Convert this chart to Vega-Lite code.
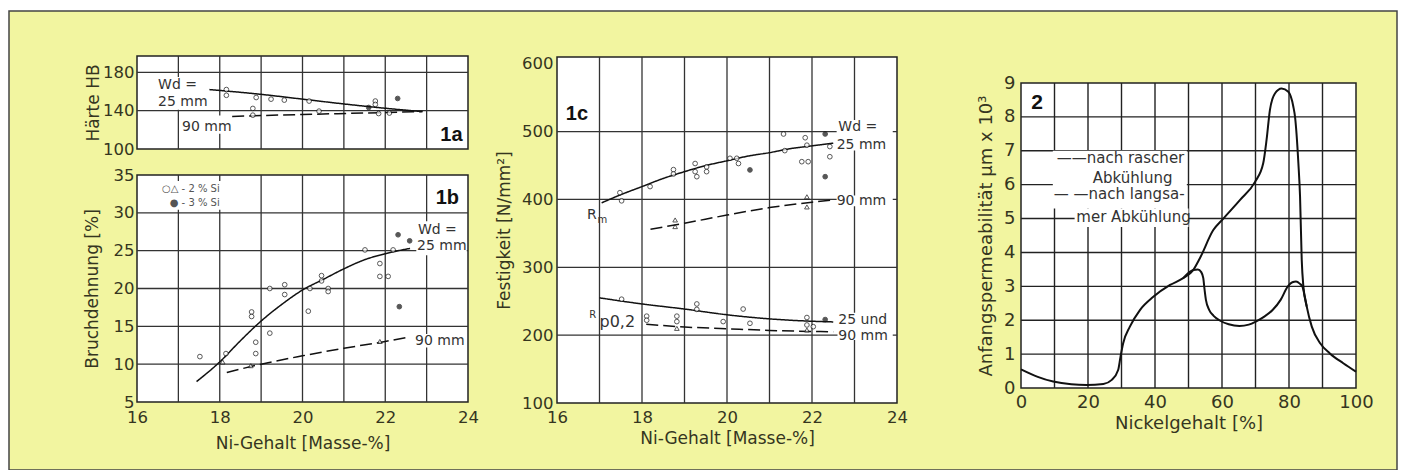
{
"$schema": "https://vega.github.io/schema/vega-lite/v6.json",
"width": 1388, "height": 459,
"autosize": {"type": "none"},
"padding": {"left": 9, "top": 11, "right": 4, "bottom": 0},
"background": "white",
"config": {
  "view": {"fill": "#f2f5a0", "stroke": "#444444", "strokeWidth": 1.5},
  "axis": {"domain": false, "ticks": false, "grid": false, "labelFont": "DejaVu Sans", "labelFontSize": 16.5, "labelColor": "#35351f", "titleFont": "DejaVu Sans", "titleFontSize": 17, "titleFontWeight": "normal", "titleColor": "#35351f", "labelFlush": false, "labelOverlap": false, "labelBound": false},
  "text": {"font": "DejaVu Sans"}
},
"datasets": {
  "haerte": [
    {"Ni": 18.16, "HB": 162, "Si": "2 % Si", "Wd": "25 mm"},
    {"Ni": 18.16, "HB": 156, "Si": "2 % Si", "Wd": "25 mm"},
    {"Ni": 18.88, "HB": 153.7, "Si": "2 % Si", "Wd": "25 mm"},
    {"Ni": 19.24, "HB": 152, "Si": "2 % Si", "Wd": "25 mm"},
    {"Ni": 19.56, "HB": 151, "Si": "2 % Si", "Wd": "25 mm"},
    {"Ni": 20.16, "HB": 150, "Si": "2 % Si", "Wd": "25 mm"},
    {"Ni": 21.76, "HB": 150, "Si": "2 % Si", "Wd": "25 mm"},
    {"Ni": 21.76, "HB": 146.5, "Si": "2 % Si", "Wd": "25 mm"},
    {"Ni": 18.8, "HB": 142.3, "Si": "2 % Si", "Wd": "90 mm"},
    {"Ni": 18.8, "HB": 135.3, "Si": "2 % Si", "Wd": "90 mm"},
    {"Ni": 20.4, "HB": 139.5, "Si": "2 % Si", "Wd": "90 mm"},
    {"Ni": 21.84, "HB": 137, "Si": "2 % Si", "Wd": "90 mm"},
    {"Ni": 22.1, "HB": 137.5, "Si": "2 % Si", "Wd": "90 mm"},
    {"Ni": 21.6, "HB": 143.3, "Si": "3 % Si", "Wd": "25 mm"},
    {"Ni": 22.3, "HB": 152.7, "Si": "3 % Si", "Wd": "25 mm"}
  ],
  "haerte_kurven": [
    {"Ni": 17.75, "HB": 162, "Wd": "25 mm"},
    {"Ni": 19, "HB": 157, "Wd": "25 mm"},
    {"Ni": 20, "HB": 152, "Wd": "25 mm"},
    {"Ni": 21, "HB": 147, "Wd": "25 mm"},
    {"Ni": 22, "HB": 142.5, "Wd": "25 mm"},
    {"Ni": 22.9, "HB": 139, "Wd": "25 mm"},
    {"Ni": 18.3, "HB": 134, "Wd": "90 mm"},
    {"Ni": 20, "HB": 136, "Wd": "90 mm"},
    {"Ni": 21.5, "HB": 137.5, "Wd": "90 mm"},
    {"Ni": 22.9, "HB": 139, "Wd": "90 mm"}
  ],
  "dehnung": [
    {"Ni": 17.52, "A": 11.0, "Si": "2 % Si", "Wd": "25 mm"},
    {"Ni": 18.15, "A": 11.4, "Si": "2 % Si", "Wd": "25 mm"},
    {"Ni": 18.77, "A": 16.9, "Si": "2 % Si", "Wd": "25 mm"},
    {"Ni": 18.77, "A": 16.3, "Si": "2 % Si", "Wd": "25 mm"},
    {"Ni": 18.87, "A": 12.9, "Si": "2 % Si", "Wd": "25 mm"},
    {"Ni": 18.87, "A": 11.4, "Si": "2 % Si", "Wd": "25 mm"},
    {"Ni": 19.21, "A": 20.0, "Si": "2 % Si", "Wd": "25 mm"},
    {"Ni": 19.21, "A": 14.1, "Si": "2 % Si", "Wd": "25 mm"},
    {"Ni": 19.57, "A": 20.5, "Si": "2 % Si", "Wd": "25 mm"},
    {"Ni": 19.57, "A": 19.2, "Si": "2 % Si", "Wd": "25 mm"},
    {"Ni": 20.18, "A": 20.0, "Si": "2 % Si", "Wd": "25 mm"},
    {"Ni": 20.14, "A": 17.0, "Si": "2 % Si", "Wd": "25 mm"},
    {"Ni": 20.46, "A": 21.7, "Si": "2 % Si", "Wd": "25 mm"},
    {"Ni": 20.46, "A": 21.0, "Si": "2 % Si", "Wd": "25 mm"},
    {"Ni": 20.62, "A": 20.0, "Si": "2 % Si", "Wd": "25 mm"},
    {"Ni": 20.62, "A": 19.6, "Si": "2 % Si", "Wd": "25 mm"},
    {"Ni": 21.51, "A": 25.1, "Si": "2 % Si", "Wd": "25 mm"},
    {"Ni": 21.87, "A": 23.3, "Si": "2 % Si", "Wd": "25 mm"},
    {"Ni": 21.87, "A": 21.6, "Si": "2 % Si", "Wd": "25 mm"},
    {"Ni": 22.07, "A": 21.6, "Si": "2 % Si", "Wd": "25 mm"},
    {"Ni": 22.19, "A": 25.1, "Si": "2 % Si", "Wd": "25 mm"},
    {"Ni": 18.07, "A": 10.3, "Si": "2 % Si", "Wd": "90 mm"},
    {"Ni": 18.75, "A": 9.8, "Si": "2 % Si", "Wd": "90 mm"},
    {"Ni": 21.87, "A": 13.0, "Si": "2 % Si", "Wd": "90 mm"},
    {"Ni": 22.31, "A": 27.1, "Si": "3 % Si", "Wd": "25 mm"},
    {"Ni": 22.34, "A": 17.6, "Si": "3 % Si", "Wd": "25 mm"},
    {"Ni": 22.59, "A": 26.3, "Si": "3 % Si", "Wd": "25 mm"}
  ],
  "dehnung_kurven": [
    {"Ni": 17.44, "A": 7.7, "Wd": "25 mm"},
    {"Ni": 18, "A": 10.3, "Wd": "25 mm"},
    {"Ni": 18.5, "A": 13.1, "Wd": "25 mm"},
    {"Ni": 19, "A": 15.7, "Wd": "25 mm"},
    {"Ni": 19.5, "A": 17.9, "Wd": "25 mm"},
    {"Ni": 20, "A": 19.8, "Wd": "25 mm"},
    {"Ni": 20.5, "A": 21.2, "Wd": "25 mm"},
    {"Ni": 21, "A": 22.6, "Wd": "25 mm"},
    {"Ni": 21.5, "A": 23.8, "Wd": "25 mm"},
    {"Ni": 22, "A": 24.6, "Wd": "25 mm"},
    {"Ni": 22.6, "A": 25.3, "Wd": "25 mm"},
    {"Ni": 18.17, "A": 8.9, "Wd": "90 mm"},
    {"Ni": 19, "A": 10.0, "Wd": "90 mm"},
    {"Ni": 20, "A": 11.1, "Wd": "90 mm"},
    {"Ni": 21, "A": 12.1, "Wd": "90 mm"},
    {"Ni": 22, "A": 13.0, "Wd": "90 mm"},
    {"Ni": 22.5, "A": 13.5, "Wd": "90 mm"}
  ],
  "festigkeit": [
    {"Ni": 17.48, "R": 410, "K": "Rm", "Si": "2 % Si", "Wd": "25 mm"},
    {"Ni": 17.52, "R": 398, "K": "Rm", "Si": "2 % Si", "Wd": "25 mm"},
    {"Ni": 18.19, "R": 419, "K": "Rm", "Si": "2 % Si", "Wd": "25 mm"},
    {"Ni": 18.74, "R": 444, "K": "Rm", "Si": "2 % Si", "Wd": "25 mm"},
    {"Ni": 18.74, "R": 437.6, "K": "Rm", "Si": "2 % Si", "Wd": "25 mm"},
    {"Ni": 19.25, "R": 453, "K": "Rm", "Si": "2 % Si", "Wd": "25 mm"},
    {"Ni": 19.25, "R": 441, "K": "Rm", "Si": "2 % Si", "Wd": "25 mm"},
    {"Ni": 19.29, "R": 433.6, "K": "Rm", "Si": "2 % Si", "Wd": "25 mm"},
    {"Ni": 19.52, "R": 448, "K": "Rm", "Si": "2 % Si", "Wd": "25 mm"},
    {"Ni": 19.52, "R": 441, "K": "Rm", "Si": "2 % Si", "Wd": "25 mm"},
    {"Ni": 20.07, "R": 460.7, "K": "Rm", "Si": "2 % Si", "Wd": "25 mm"},
    {"Ni": 20.23, "R": 460.7, "K": "Rm", "Si": "2 % Si", "Wd": "25 mm"},
    {"Ni": 20.27, "R": 453, "K": "Rm", "Si": "2 % Si", "Wd": "25 mm"},
    {"Ni": 21.33, "R": 496.5, "K": "Rm", "Si": "2 % Si", "Wd": "25 mm"},
    {"Ni": 21.36, "R": 472, "K": "Rm", "Si": "2 % Si", "Wd": "25 mm"},
    {"Ni": 21.84, "R": 491, "K": "Rm", "Si": "2 % Si", "Wd": "25 mm"},
    {"Ni": 21.88, "R": 480, "K": "Rm", "Si": "2 % Si", "Wd": "25 mm"},
    {"Ni": 21.76, "R": 455.7, "K": "Rm", "Si": "2 % Si", "Wd": "25 mm"},
    {"Ni": 21.91, "R": 455.7, "K": "Rm", "Si": "2 % Si", "Wd": "25 mm"},
    {"Ni": 22.42, "R": 478, "K": "Rm", "Si": "2 % Si", "Wd": "25 mm"},
    {"Ni": 22.42, "R": 463, "K": "Rm", "Si": "2 % Si", "Wd": "25 mm"},
    {"Ni": 18.78, "R": 369.8, "K": "Rm", "Si": "2 % Si", "Wd": "90 mm"},
    {"Ni": 18.78, "R": 360, "K": "Rm", "Si": "2 % Si", "Wd": "90 mm"},
    {"Ni": 21.88, "R": 404, "K": "Rm", "Si": "2 % Si", "Wd": "90 mm"},
    {"Ni": 21.88, "R": 389, "K": "Rm", "Si": "2 % Si", "Wd": "90 mm"},
    {"Ni": 20.54, "R": 443.5, "K": "Rm", "Si": "3 % Si", "Wd": "25 mm"},
    {"Ni": 22.31, "R": 496.5, "K": "Rm", "Si": "3 % Si", "Wd": "25 mm"},
    {"Ni": 22.31, "R": 433.6, "K": "Rm", "Si": "3 % Si", "Wd": "25 mm"},
    {"Ni": 17.52, "R": 253, "K": "Rp0,2", "Si": "2 % Si", "Wd": "25 mm"},
    {"Ni": 18.11, "R": 228, "K": "Rp0,2", "Si": "2 % Si", "Wd": "25 mm"},
    {"Ni": 18.11, "R": 222, "K": "Rp0,2", "Si": "2 % Si", "Wd": "25 mm"},
    {"Ni": 18.82, "R": 228, "K": "Rp0,2", "Si": "2 % Si", "Wd": "25 mm"},
    {"Ni": 18.82, "R": 220, "K": "Rp0,2", "Si": "2 % Si", "Wd": "25 mm"},
    {"Ni": 19.29, "R": 246, "K": "Rp0,2", "Si": "2 % Si", "Wd": "25 mm"},
    {"Ni": 19.29, "R": 238, "K": "Rp0,2", "Si": "2 % Si", "Wd": "25 mm"},
    {"Ni": 19.91, "R": 220, "K": "Rp0,2", "Si": "2 % Si", "Wd": "25 mm"},
    {"Ni": 20.38, "R": 238.5, "K": "Rp0,2", "Si": "2 % Si", "Wd": "25 mm"},
    {"Ni": 20.54, "R": 217.5, "K": "Rp0,2", "Si": "2 % Si", "Wd": "25 mm"},
    {"Ni": 21.88, "R": 226, "K": "Rp0,2", "Si": "2 % Si", "Wd": "25 mm"},
    {"Ni": 21.88, "R": 215, "K": "Rp0,2", "Si": "2 % Si", "Wd": "25 mm"},
    {"Ni": 22.03, "R": 212.5, "K": "Rp0,2", "Si": "2 % Si", "Wd": "25 mm"},
    {"Ni": 18.82, "R": 210, "K": "Rp0,2", "Si": "2 % Si", "Wd": "90 mm"},
    {"Ni": 21.88, "R": 207.6, "K": "Rp0,2", "Si": "2 % Si", "Wd": "90 mm"},
    {"Ni": 22.31, "R": 223, "K": "Rp0,2", "Si": "3 % Si", "Wd": "25 mm"}
  ],
  "festigkeit_kurven": [
    {"Ni": 17.05, "R": 395, "K": "Rm", "Wd": "25 mm"},
    {"Ni": 17.5, "R": 407, "K": "Rm", "Wd": "25 mm"},
    {"Ni": 18, "R": 419, "K": "Rm", "Wd": "25 mm"},
    {"Ni": 18.5, "R": 431, "K": "Rm", "Wd": "25 mm"},
    {"Ni": 19, "R": 441, "K": "Rm", "Wd": "25 mm"},
    {"Ni": 19.5, "R": 450, "K": "Rm", "Wd": "25 mm"},
    {"Ni": 20, "R": 457, "K": "Rm", "Wd": "25 mm"},
    {"Ni": 20.5, "R": 464, "K": "Rm", "Wd": "25 mm"},
    {"Ni": 21, "R": 469, "K": "Rm", "Wd": "25 mm"},
    {"Ni": 21.5, "R": 475, "K": "Rm", "Wd": "25 mm"},
    {"Ni": 22, "R": 479, "K": "Rm", "Wd": "25 mm"},
    {"Ni": 22.5, "R": 483, "K": "Rm", "Wd": "25 mm"},
    {"Ni": 18.2, "R": 356, "K": "Rm", "Wd": "90 mm"},
    {"Ni": 19, "R": 365, "K": "Rm", "Wd": "90 mm"},
    {"Ni": 20, "R": 377, "K": "Rm", "Wd": "90 mm"},
    {"Ni": 21, "R": 388, "K": "Rm", "Wd": "90 mm"},
    {"Ni": 22, "R": 396, "K": "Rm", "Wd": "90 mm"},
    {"Ni": 22.45, "R": 399, "K": "Rm", "Wd": "90 mm"},
    {"Ni": 17, "R": 255, "K": "Rp0,2", "Wd": "25 mm"},
    {"Ni": 18, "R": 246, "K": "Rp0,2", "Wd": "25 mm"},
    {"Ni": 19, "R": 238.5, "K": "Rp0,2", "Wd": "25 mm"},
    {"Ni": 20, "R": 230, "K": "Rp0,2", "Wd": "25 mm"},
    {"Ni": 21, "R": 224, "K": "Rp0,2", "Wd": "25 mm"},
    {"Ni": 22, "R": 220.5, "K": "Rp0,2", "Wd": "25 mm"},
    {"Ni": 22.5, "R": 219.5, "K": "Rp0,2", "Wd": "25 mm"},
    {"Ni": 18.1, "R": 216, "K": "Rp0,2", "Wd": "90 mm"},
    {"Ni": 19, "R": 212, "K": "Rp0,2", "Wd": "90 mm"},
    {"Ni": 20, "R": 209.5, "K": "Rp0,2", "Wd": "90 mm"},
    {"Ni": 21, "R": 207, "K": "Rp0,2", "Wd": "90 mm"},
    {"Ni": 22, "R": 205.5, "K": "Rp0,2", "Wd": "90 mm"},
    {"Ni": 22.5, "R": 205, "K": "Rp0,2", "Wd": "90 mm"}
  ],
  "permeabilitaet": [
    {"Ni": 0, "mu": 0.55, "Abk": "rasch"},
    {"Ni": 5, "mu": 0.33, "Abk": "rasch"},
    {"Ni": 9.6, "mu": 0.19, "Abk": "rasch"},
    {"Ni": 15, "mu": 0.11, "Abk": "rasch"},
    {"Ni": 19.6, "mu": 0.09, "Abk": "rasch"},
    {"Ni": 24.6, "mu": 0.12, "Abk": "rasch"},
    {"Ni": 27.1, "mu": 0.24, "Abk": "rasch"},
    {"Ni": 29, "mu": 0.53, "Abk": "rasch"},
    {"Ni": 29.7, "mu": 0.92, "Abk": "rasch"},
    {"Ni": 30.5, "mu": 1.32, "Abk": "rasch"},
    {"Ni": 32.5, "mu": 1.81, "Abk": "rasch"},
    {"Ni": 35.5, "mu": 2.30, "Abk": "rasch"},
    {"Ni": 39.5, "mu": 2.69, "Abk": "rasch"},
    {"Ni": 44.5, "mu": 3.04, "Abk": "rasch"},
    {"Ni": 48.4, "mu": 3.24, "Abk": "rasch"},
    {"Ni": 51.4, "mu": 3.48, "Abk": "rasch"},
    {"Ni": 53.4, "mu": 3.83, "Abk": "rasch"},
    {"Ni": 57.4, "mu": 4.66, "Abk": "rasch"},
    {"Ni": 60.4, "mu": 5.0, "Abk": "rasch"},
    {"Ni": 65.4, "mu": 5.55, "Abk": "rasch"},
    {"Ni": 69.9, "mu": 6.09, "Abk": "rasch"},
    {"Ni": 72.3, "mu": 6.63, "Abk": "rasch"},
    {"Ni": 73.3, "mu": 7.32, "Abk": "rasch"},
    {"Ni": 74.3, "mu": 8.2, "Abk": "rasch"},
    {"Ni": 75.8, "mu": 8.69, "Abk": "rasch"},
    {"Ni": 77.8, "mu": 8.84, "Abk": "rasch"},
    {"Ni": 79.8, "mu": 8.74, "Abk": "rasch"},
    {"Ni": 81.3, "mu": 8.3, "Abk": "rasch"},
    {"Ni": 81.8, "mu": 8.0, "Abk": "rasch"},
    {"Ni": 82.8, "mu": 6.63, "Abk": "rasch"},
    {"Ni": 83.3, "mu": 5.64, "Abk": "rasch"},
    {"Ni": 83.8, "mu": 3.78, "Abk": "rasch"},
    {"Ni": 84.3, "mu": 2.99, "Abk": "rasch"},
    {"Ni": 85.3, "mu": 2.40, "Abk": "rasch"},
    {"Ni": 86.8, "mu": 1.81, "Abk": "rasch"},
    {"Ni": 89.3, "mu": 1.32, "Abk": "rasch"},
    {"Ni": 92.2, "mu": 1.02, "Abk": "rasch"},
    {"Ni": 96.2, "mu": 0.73, "Abk": "rasch"},
    {"Ni": 100, "mu": 0.48, "Abk": "rasch"},
    {"Ni": 48.4, "mu": 3.24, "Abk": "langsam"},
    {"Ni": 51.4, "mu": 3.48, "Abk": "langsam"},
    {"Ni": 52.8, "mu": 3.50, "Abk": "langsam"},
    {"Ni": 53.8, "mu": 3.42, "Abk": "langsam"},
    {"Ni": 54.4, "mu": 3.25, "Abk": "langsam"},
    {"Ni": 54.8, "mu": 2.9, "Abk": "langsam"},
    {"Ni": 55.2, "mu": 2.6, "Abk": "langsam"},
    {"Ni": 56.2, "mu": 2.30, "Abk": "langsam"},
    {"Ni": 57.5, "mu": 2.13, "Abk": "langsam"},
    {"Ni": 59.2, "mu": 2.0, "Abk": "langsam"},
    {"Ni": 62, "mu": 1.88, "Abk": "langsam"},
    {"Ni": 65.2, "mu": 1.83, "Abk": "langsam"},
    {"Ni": 68, "mu": 1.87, "Abk": "langsam"},
    {"Ni": 70.1, "mu": 1.96, "Abk": "langsam"},
    {"Ni": 72.5, "mu": 2.1, "Abk": "langsam"},
    {"Ni": 75.1, "mu": 2.30, "Abk": "langsam"},
    {"Ni": 77.5, "mu": 2.6, "Abk": "langsam"},
    {"Ni": 79.6, "mu": 2.99, "Abk": "langsam"},
    {"Ni": 81, "mu": 3.12, "Abk": "langsam"},
    {"Ni": 82.1, "mu": 3.14, "Abk": "langsam"},
    {"Ni": 83.2, "mu": 3.08, "Abk": "langsam"},
    {"Ni": 84.0, "mu": 2.99, "Abk": "langsam"},
    {"Ni": 84.6, "mu": 2.75, "Abk": "langsam"},
    {"Ni": 85.3, "mu": 2.40, "Abk": "langsam"}
  ]
},
"layer": [
  {"data": {"values": [{"x1": 16, "x2": 24, "y1": 100, "y2": 197}]}, "mark": {"type": "rect", "fill": "white", "stroke": "#222222", "strokeWidth": 1.5},
   "encoding": {
     "x": {"field": "x1", "type": "quantitative", "scale": {"domain": [16, 24], "range": [128, 459], "nice": false, "zero": false}, "axis": null},
     "x2": {"field": "x2"},
     "y": {"field": "y1", "type": "quantitative", "scale": {"domain": [100, 197], "range": [138, 45], "nice": false, "zero": false},
           "axis": {"orient": "left", "offset": -128, "values": [100, 140, 180], "title": "Härte HB", "labelPadding": 3, "titlePadding": 0}},
     "y2": {"field": "y2"}
   }},
  {"data": {"values": [{"x1": 16, "x2": 24, "y1": 5, "y2": 35}]}, "mark": {"type": "rect", "fill": "white", "stroke": "#222222", "strokeWidth": 1.5},
   "encoding": {
     "x": {"field": "x1", "type": "quantitative", "scale": {"domain": [16, 24], "range": [128, 459], "nice": false, "zero": false},
           "axis": {"orient": "bottom", "offset": -68, "values": [16, 18, 20, 22, 24], "title": "Ni-Gehalt [Masse-%]", "labelPadding": 7, "titlePadding": 10}},
     "x2": {"field": "x2"},
     "y": {"field": "y1", "type": "quantitative", "scale": {"domain": [5, 35], "range": [391, 164], "nice": false, "zero": false},
           "axis": {"orient": "left", "offset": -128, "values": [5, 10, 15, 20, 25, 30, 35], "title": "Bruchdehnung [%]", "labelPadding": 3, "titlePadding": 12}},
     "y2": {"field": "y2"}
   }},
  {"data": {"values": [{"x1": 16, "x2": 24, "y1": 100, "y2": 610}]}, "mark": {"type": "rect", "fill": "white", "stroke": "#222222", "strokeWidth": 1.5},
   "encoding": {
     "x": {"field": "x1", "type": "quantitative", "scale": {"domain": [16, 24], "range": [548, 888], "nice": false, "zero": false},
           "axis": {"orient": "bottom", "offset": -67, "values": [16, 18, 20, 22, 24], "title": "Ni-Gehalt [Masse-%]", "labelPadding": 6, "titlePadding": 5}},
     "x2": {"field": "x2"},
     "y": {"field": "y1", "type": "quantitative", "scale": {"domain": [100, 610], "range": [392, 46], "nice": false, "zero": false},
           "axis": {"orient": "left", "offset": -548, "values": [100, 200, 300, 400, 500, 600], "title": "Festigkeit [N/mm²]", "labelPadding": 4, "titlePadding": 8}},
     "y2": {"field": "y2"}
   }},
  {"data": {"values": [{"x1": 0, "x2": 100, "y1": 0, "y2": 9}]}, "mark": {"type": "rect", "fill": "white", "stroke": "#222222", "strokeWidth": 1.5},
   "encoding": {
     "x": {"field": "x1", "type": "quantitative", "scale": {"domain": [0, 100], "range": [1012, 1347], "nice": false, "zero": false},
           "axis": {"orient": "bottom", "offset": -82, "values": [0, 20, 40, 60, 80, 100], "title": "Nickelgehalt [%]", "labelPadding": 5, "titlePadding": 3, "labelFontSize": 18, "titleFontSize": 18}},
     "x2": {"field": "x2"},
     "y": {"field": "y1", "type": "quantitative", "scale": {"domain": [0, 9], "range": [377, 72], "nice": false, "zero": false},
           "axis": {"orient": "left", "offset": -1012, "values": [0, 1, 2, 3, 4, 5, 6, 7, 8, 9], "title": "Anfangspermeabilität µm x 10³", "labelPadding": 6, "titlePadding": 8, "labelFontSize": 18, "titleFontSize": 18}},
     "y2": {"field": "y2"}
   }},

  {"data": {"values": [{"v": 17}, {"v": 18}, {"v": 19}, {"v": 20}, {"v": 21}, {"v": 22}, {"v": 23}]},
   "mark": {"type": "rule", "stroke": "#333333", "strokeWidth": 1.3},
   "encoding": {"x": {"field": "v", "type": "quantitative", "scale": {"domain": [16, 24], "range": [128, 459], "nice": false, "zero": false}, "axis": null},
                "y": {"datum": 100, "type": "quantitative", "scale": {"domain": [100, 197], "range": [138, 45], "nice": false, "zero": false}, "axis": null}, "y2": {"datum": 197}}},
  {"data": {"values": [{"v": 140}, {"v": 180}]},
   "mark": {"type": "rule", "stroke": "#333333", "strokeWidth": 1.3},
   "encoding": {"y": {"field": "v", "type": "quantitative", "scale": {"domain": [100, 197], "range": [138, 45], "nice": false, "zero": false}, "axis": null},
                "x": {"datum": 16, "type": "quantitative", "scale": {"domain": [16, 24], "range": [128, 459], "nice": false, "zero": false}, "axis": null}, "x2": {"datum": 24}}},
  {"data": {"values": [{"x1": 16.45, "x2": 17.72, "y1": 141, "y2": 175}, {"x1": 17.05, "x2": 18.3, "y1": 116, "y2": 135}]}, "mark": {"type": "rect", "fill": "white"},
   "encoding": {"x": {"field": "x1", "type": "quantitative", "scale": {"domain": [16, 24], "range": [128, 459], "nice": false, "zero": false}, "axis": null}, "x2": {"field": "x2"},
                "y": {"field": "y1", "type": "quantitative", "scale": {"domain": [100, 197], "range": [138, 45], "nice": false, "zero": false}, "axis": null}, "y2": {"field": "y2"}}},
  {"data": {"name": "haerte_kurven"}, "mark": {"type": "line", "stroke": "#111111", "strokeWidth": 1.5, "interpolate": "monotone"},
   "encoding": {"x": {"field": "Ni", "type": "quantitative", "scale": {"domain": [16, 24], "range": [128, 459], "nice": false, "zero": false}, "axis": null},
                "y": {"field": "HB", "type": "quantitative", "scale": {"domain": [100, 197], "range": [138, 45], "nice": false, "zero": false}, "axis": null},
                "strokeDash": {"field": "Wd", "type": "nominal", "scale": {"domain": ["25 mm", "90 mm"], "range": [[1, 0], [12, 5]]}, "legend": null}}},
  {"data": {"name": "haerte"}, "mark": {"type": "point", "shape": "circle", "filled": true, "size": 22, "stroke": "#111111", "strokeWidth": 1},
   "encoding": {"x": {"field": "Ni", "type": "quantitative", "scale": {"domain": [16, 24], "range": [128, 459], "nice": false, "zero": false}, "axis": null},
                "y": {"field": "HB", "type": "quantitative", "scale": {"domain": [100, 197], "range": [138, 45], "nice": false, "zero": false}, "axis": null},
                "fill": {"field": "Si", "type": "nominal", "scale": {"domain": ["2 % Si", "3 % Si"], "range": ["white", "#111111"]}, "legend": null}}},
  {"data": {"values": [{"t": "Wd =", "x": 16.51, "y": 166.5}, {"t": "25 mm", "x": 16.51, "y": 149}, {"t": "90 mm", "x": 17.09, "y": 122.5}]},
   "mark": {"type": "text", "align": "left", "baseline": "middle", "fontSize": 14, "fill": "#333333"},
   "encoding": {"x": {"field": "x", "type": "quantitative", "scale": {"domain": [16, 24], "range": [128, 459], "nice": false, "zero": false}, "axis": null},
                "y": {"field": "y", "type": "quantitative", "scale": {"domain": [100, 197], "range": [138, 45], "nice": false, "zero": false}, "axis": null}, "text": {"field": "t"}}},
  {"data": {"values": [{"t": "1a", "x": 23.6, "y": 114.5}]},
   "mark": {"type": "text", "align": "center", "baseline": "middle", "font": "Liberation Sans", "fontWeight": "bold", "fontSize": 20, "fill": "#111111"},
   "encoding": {"x": {"field": "x", "type": "quantitative", "scale": {"domain": [16, 24], "range": [128, 459], "nice": false, "zero": false}, "axis": null},
                "y": {"field": "y", "type": "quantitative", "scale": {"domain": [100, 197], "range": [138, 45], "nice": false, "zero": false}, "axis": null}, "text": {"field": "t"}}},

  {"data": {"values": [{"v": 17}, {"v": 18}, {"v": 19}, {"v": 20}, {"v": 21}, {"v": 22}, {"v": 23}]},
   "mark": {"type": "rule", "stroke": "#333333", "strokeWidth": 1.3},
   "encoding": {"x": {"field": "v", "type": "quantitative", "scale": {"domain": [16, 24], "range": [128, 459], "nice": false, "zero": false}, "axis": null},
                "y": {"datum": 5, "type": "quantitative", "scale": {"domain": [5, 35], "range": [391, 164], "nice": false, "zero": false}, "axis": null}, "y2": {"datum": 35}}},
  {"data": {"values": [{"v": 10}, {"v": 15}, {"v": 20}, {"v": 25}, {"v": 30}]},
   "mark": {"type": "rule", "stroke": "#333333", "strokeWidth": 1.3},
   "encoding": {"y": {"field": "v", "type": "quantitative", "scale": {"domain": [5, 35], "range": [391, 164], "nice": false, "zero": false}, "axis": null},
                "x": {"datum": 16, "type": "quantitative", "scale": {"domain": [16, 24], "range": [128, 459], "nice": false, "zero": false}, "axis": null}, "x2": {"datum": 24}}},
  {"data": {"values": [{"x1": 22.75, "x2": 23.97, "y1": 24.4, "y2": 28.9}, {"x1": 22.65, "x2": 23.97, "y1": 12.2, "y2": 14.0}, {"x1": 16.2, "x2": 18.15, "y1": 30.4, "y2": 34.2}]}, "mark": {"type": "rect", "fill": "white"},
   "encoding": {"x": {"field": "x1", "type": "quantitative", "scale": {"domain": [16, 24], "range": [128, 459], "nice": false, "zero": false}, "axis": null}, "x2": {"field": "x2"},
                "y": {"field": "y1", "type": "quantitative", "scale": {"domain": [5, 35], "range": [391, 164], "nice": false, "zero": false}, "axis": null}, "y2": {"field": "y2"}}},
  {"data": {"name": "dehnung_kurven"}, "mark": {"type": "line", "stroke": "#111111", "strokeWidth": 1.5, "interpolate": "monotone"},
   "encoding": {"x": {"field": "Ni", "type": "quantitative", "scale": {"domain": [16, 24], "range": [128, 459], "nice": false, "zero": false}, "axis": null},
                "y": {"field": "A", "type": "quantitative", "scale": {"domain": [5, 35], "range": [391, 164], "nice": false, "zero": false}, "axis": null},
                "strokeDash": {"field": "Wd", "type": "nominal", "scale": {"domain": ["25 mm", "90 mm"], "range": [[1, 0], [12, 5]]}, "legend": null}}},
  {"data": {"name": "dehnung"}, "mark": {"type": "point", "filled": true, "size": 22, "stroke": "#111111", "strokeWidth": 1},
   "encoding": {"x": {"field": "Ni", "type": "quantitative", "scale": {"domain": [16, 24], "range": [128, 459], "nice": false, "zero": false}, "axis": null},
                "y": {"field": "A", "type": "quantitative", "scale": {"domain": [5, 35], "range": [391, 164], "nice": false, "zero": false}, "axis": null},
                "shape": {"field": "Wd", "type": "nominal", "scale": {"domain": ["25 mm", "90 mm"], "range": ["circle", "triangle-up"]}, "legend": null},
                "fill": {"field": "Si", "type": "nominal", "scale": {"domain": ["2 % Si", "3 % Si"], "range": ["white", "#111111"]}, "legend": null}}},
  {"data": {"values": [{"t": "Wd =", "x": 22.79, "y": 27.75}, {"t": "25 mm", "x": 22.77, "y": 25.6}, {"t": "90 mm", "x": 22.72, "y": 13.1}]},
   "mark": {"type": "text", "align": "left", "baseline": "middle", "fontSize": 14, "fill": "#333333"},
   "encoding": {"x": {"field": "x", "type": "quantitative", "scale": {"domain": [16, 24], "range": [128, 459], "nice": false, "zero": false}, "axis": null},
                "y": {"field": "y", "type": "quantitative", "scale": {"domain": [5, 35], "range": [391, 164], "nice": false, "zero": false}, "axis": null}, "text": {"field": "t"}}},
  {"data": {"values": [{"t": "○△ - 2 % Si", "x": 18.0, "y": 33.1}, {"t": "● - 3 % Si", "x": 18.0, "y": 31.25}]},
   "mark": {"type": "text", "align": "right", "baseline": "middle", "fontSize": 10, "fill": "#555555"},
   "encoding": {"x": {"field": "x", "type": "quantitative", "scale": {"domain": [16, 24], "range": [128, 459], "nice": false, "zero": false}, "axis": null},
                "y": {"field": "y", "type": "quantitative", "scale": {"domain": [5, 35], "range": [391, 164], "nice": false, "zero": false}, "axis": null}, "text": {"field": "t"}}},
  {"data": {"values": [{"t": "1b", "x": 23.5, "y": 31.9}]},
   "mark": {"type": "text", "align": "center", "baseline": "middle", "font": "Liberation Sans", "fontWeight": "bold", "fontSize": 20, "fill": "#111111"},
   "encoding": {"x": {"field": "x", "type": "quantitative", "scale": {"domain": [16, 24], "range": [128, 459], "nice": false, "zero": false}, "axis": null},
                "y": {"field": "y", "type": "quantitative", "scale": {"domain": [5, 35], "range": [391, 164], "nice": false, "zero": false}, "axis": null}, "text": {"field": "t"}}},

  {"data": {"values": [{"v": 17}, {"v": 18}, {"v": 19}, {"v": 20}, {"v": 21}, {"v": 22}, {"v": 23}]},
   "mark": {"type": "rule", "stroke": "#333333", "strokeWidth": 1.3},
   "encoding": {"x": {"field": "v", "type": "quantitative", "scale": {"domain": [16, 24], "range": [548, 888], "nice": false, "zero": false}, "axis": null},
                "y": {"datum": 100, "type": "quantitative", "scale": {"domain": [100, 610], "range": [392, 46], "nice": false, "zero": false}, "axis": null}, "y2": {"datum": 610}}},
  {"data": {"values": [{"v": 200}, {"v": 300}, {"v": 400}, {"v": 500}]},
   "mark": {"type": "rule", "stroke": "#333333", "strokeWidth": 1.3},
   "encoding": {"y": {"field": "v", "type": "quantitative", "scale": {"domain": [100, 610], "range": [392, 46], "nice": false, "zero": false}, "axis": null},
                "x": {"datum": 16, "type": "quantitative", "scale": {"domain": [16, 24], "range": [548, 888], "nice": false, "zero": false}, "axis": null}, "x2": {"datum": 24}}},
  {"data": {"values": [{"x1": 22.58, "x2": 23.9, "y1": 472, "y2": 517}, {"x1": 22.58, "x2": 23.9, "y1": 390, "y2": 406}, {"x1": 22.6, "x2": 23.9, "y1": 193, "y2": 233}]}, "mark": {"type": "rect", "fill": "white"},
   "encoding": {"x": {"field": "x1", "type": "quantitative", "scale": {"domain": [16, 24], "range": [548, 888], "nice": false, "zero": false}, "axis": null}, "x2": {"field": "x2"},
                "y": {"field": "y1", "type": "quantitative", "scale": {"domain": [100, 610], "range": [392, 46], "nice": false, "zero": false}, "axis": null}, "y2": {"field": "y2"}}},
  {"data": {"name": "festigkeit_kurven"}, "mark": {"type": "line", "stroke": "#111111", "strokeWidth": 1.5, "interpolate": "monotone"},
   "encoding": {"x": {"field": "Ni", "type": "quantitative", "scale": {"domain": [16, 24], "range": [548, 888], "nice": false, "zero": false}, "axis": null},
                "y": {"field": "R", "type": "quantitative", "scale": {"domain": [100, 610], "range": [392, 46], "nice": false, "zero": false}, "axis": null},
                "detail": {"field": "K", "type": "nominal"},
                "strokeDash": {"field": "Wd", "type": "nominal", "scale": {"domain": ["25 mm", "90 mm"], "range": [[1, 0], [12, 5]]}, "legend": null}}},
  {"data": {"name": "festigkeit"}, "mark": {"type": "point", "filled": true, "size": 22, "stroke": "#111111", "strokeWidth": 1},
   "encoding": {"x": {"field": "Ni", "type": "quantitative", "scale": {"domain": [16, 24], "range": [548, 888], "nice": false, "zero": false}, "axis": null},
                "y": {"field": "R", "type": "quantitative", "scale": {"domain": [100, 610], "range": [392, 46], "nice": false, "zero": false}, "axis": null},
                "shape": {"field": "Wd", "type": "nominal", "scale": {"domain": ["25 mm", "90 mm"], "range": ["circle", "triangle-up"]}, "legend": null},
                "fill": {"field": "Si", "type": "nominal", "scale": {"domain": ["2 % Si", "3 % Si"], "range": ["white", "#111111"]}, "legend": null}}},
  {"data": {"values": [{"t": "Wd =", "x": 22.62, "y": 507}, {"t": "25 mm", "x": 22.58, "y": 480}, {"t": "90 mm", "x": 22.58, "y": 398}, {"t": "25 und", "x": 22.62, "y": 223}, {"t": "90 mm", "x": 22.62, "y": 199}]},
   "mark": {"type": "text", "align": "left", "baseline": "middle", "fontSize": 14, "fill": "#333333"},
   "encoding": {"x": {"field": "x", "type": "quantitative", "scale": {"domain": [16, 24], "range": [548, 888], "nice": false, "zero": false}, "axis": null},
                "y": {"field": "y", "type": "quantitative", "scale": {"domain": [100, 610], "range": [392, 46], "nice": false, "zero": false}, "axis": null}, "text": {"field": "t"}}},
  {"data": {"values": [{"t": "R", "x": 16.82, "y": 377}]},
   "mark": {"type": "text", "align": "center", "baseline": "middle", "fontSize": 14, "fill": "#333333"},
   "encoding": {"x": {"field": "x", "type": "quantitative", "scale": {"domain": [16, 24], "range": [548, 888], "nice": false, "zero": false}, "axis": null},
                "y": {"field": "y", "type": "quantitative", "scale": {"domain": [100, 610], "range": [392, 46], "nice": false, "zero": false}, "axis": null}, "text": {"field": "t"}}},
  {"data": {"values": [{"t": "m", "x": 17.07, "y": 370}, {"t": "R", "x": 16.84, "y": 229}]},
   "mark": {"type": "text", "align": "center", "baseline": "middle", "fontSize": 10, "fill": "#333333"},
   "encoding": {"x": {"field": "x", "type": "quantitative", "scale": {"domain": [16, 24], "range": [548, 888], "nice": false, "zero": false}, "axis": null},
                "y": {"field": "y", "type": "quantitative", "scale": {"domain": [100, 610], "range": [392, 46], "nice": false, "zero": false}, "axis": null}, "text": {"field": "t"}}},
  {"data": {"values": [{"t": "p0,2", "x": 17.0, "y": 220}]},
   "mark": {"type": "text", "align": "left", "baseline": "middle", "fontSize": 16, "fill": "#333333"},
   "encoding": {"x": {"field": "x", "type": "quantitative", "scale": {"domain": [16, 24], "range": [548, 888], "nice": false, "zero": false}, "axis": null},
                "y": {"field": "y", "type": "quantitative", "scale": {"domain": [100, 610], "range": [392, 46], "nice": false, "zero": false}, "axis": null}, "text": {"field": "t"}}},
  {"data": {"values": [{"t": "1c", "x": 16.47, "y": 526}]},
   "mark": {"type": "text", "align": "center", "baseline": "middle", "font": "Liberation Sans", "fontWeight": "bold", "fontSize": 20, "fill": "#111111"},
   "encoding": {"x": {"field": "x", "type": "quantitative", "scale": {"domain": [16, 24], "range": [548, 888], "nice": false, "zero": false}, "axis": null},
                "y": {"field": "y", "type": "quantitative", "scale": {"domain": [100, 610], "range": [392, 46], "nice": false, "zero": false}, "axis": null}, "text": {"field": "t"}}},

  {"data": {"values": [{"v": 10}, {"v": 20}, {"v": 30}, {"v": 40}, {"v": 50}, {"v": 60}, {"v": 70}, {"v": 80}, {"v": 90}]},
   "mark": {"type": "rule", "stroke": "#222222", "strokeWidth": 1.4},
   "encoding": {"x": {"field": "v", "type": "quantitative", "scale": {"domain": [0, 100], "range": [1012, 1347], "nice": false, "zero": false}, "axis": null},
                "y": {"datum": 0, "type": "quantitative", "scale": {"domain": [0, 9], "range": [377, 72], "nice": false, "zero": false}, "axis": null}, "y2": {"datum": 9}}},
  {"data": {"values": [{"v": 1}, {"v": 2}, {"v": 3}, {"v": 4}, {"v": 5}, {"v": 6}, {"v": 7}, {"v": 8}]},
   "mark": {"type": "rule", "stroke": "#222222", "strokeWidth": 1.4},
   "encoding": {"y": {"field": "v", "type": "quantitative", "scale": {"domain": [0, 9], "range": [377, 72], "nice": false, "zero": false}, "axis": null},
                "x": {"datum": 0, "type": "quantitative", "scale": {"domain": [0, 100], "range": [1012, 1347], "nice": false, "zero": false}, "axis": null}, "x2": {"datum": 100}}},
  {"data": {"values": [{"x1": 9.5, "x2": 49.5, "y1": 5.3, "y2": 7.0}, {"x1": 16, "x2": 50, "y1": 4.75, "y2": 5.3}]}, "mark": {"type": "rect", "fill": "white"},
   "encoding": {"x": {"field": "x1", "type": "quantitative", "scale": {"domain": [0, 100], "range": [1012, 1347], "nice": false, "zero": false}, "axis": null}, "x2": {"field": "x2"},
                "y": {"field": "y1", "type": "quantitative", "scale": {"domain": [0, 9], "range": [377, 72], "nice": false, "zero": false}, "axis": null}, "y2": {"field": "y2"}}},
  {"data": {"name": "permeabilitaet"}, "mark": {"type": "line", "stroke": "#111111", "strokeWidth": 2, "interpolate": "monotone"},
   "encoding": {"x": {"field": "Ni", "type": "quantitative", "scale": {"domain": [0, 100], "range": [1012, 1347], "nice": false, "zero": false}, "axis": null},
                "y": {"field": "mu", "type": "quantitative", "scale": {"domain": [0, 9], "range": [377, 72], "nice": false, "zero": false}, "axis": null},
                "detail": {"field": "Abk", "type": "nominal"}}},
  {"data": {"values": [{"t": "——nach rascher", "x": 29.7, "y": 6.78}, {"t": "Abkühlung", "x": 33.3, "y": 6.19}, {"t": "— —nach langsa-", "x": 29.3, "y": 5.72}, {"t": "mer Abkühlung", "x": 33.6, "y": 5.05}]},
   "mark": {"type": "text", "align": "center", "baseline": "middle", "fontSize": 15, "fill": "#333333"},
   "encoding": {"x": {"field": "x", "type": "quantitative", "scale": {"domain": [0, 100], "range": [1012, 1347], "nice": false, "zero": false}, "axis": null},
                "y": {"field": "y", "type": "quantitative", "scale": {"domain": [0, 9], "range": [377, 72], "nice": false, "zero": false}, "axis": null}, "text": {"field": "t"}}},
  {"data": {"values": [{"t": "2", "x": 4.8, "y": 8.4}]},
   "mark": {"type": "text", "align": "center", "baseline": "middle", "font": "Liberation Sans", "fontWeight": "bold", "fontSize": 21, "fill": "#111111"},
   "encoding": {"x": {"field": "x", "type": "quantitative", "scale": {"domain": [0, 100], "range": [1012, 1347], "nice": false, "zero": false}, "axis": null},
                "y": {"field": "y", "type": "quantitative", "scale": {"domain": [0, 9], "range": [377, 72], "nice": false, "zero": false}, "axis": null}, "text": {"field": "t"}}}
],
"resolve": {"scale": {"x": "independent", "y": "independent"}}
}
